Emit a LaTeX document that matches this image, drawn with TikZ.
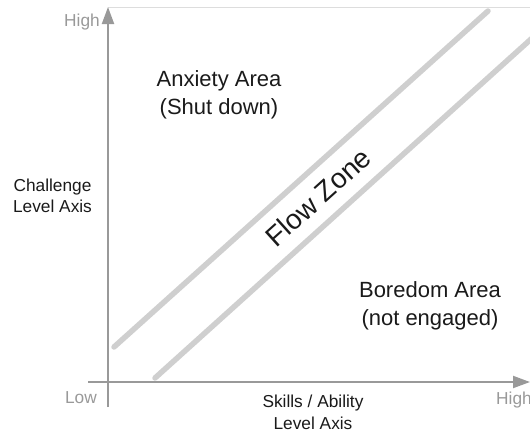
\documentclass[tikz,border=0pt]{standalone}
\usepackage{fontspec}
\setmainfont{Liberation Sans}
\usetikzlibrary{arrows.meta}
\definecolor{axisgray}{HTML}{999999}
\definecolor{bandgray}{HTML}{CFCFCF}
\definecolor{framegray}{HTML}{DDDDDD}
\definecolor{txt}{HTML}{1A1A1A}
\tikzset{
  axisline/.style={draw=axisgray, line width=2pt, -{Triangle[length=17pt,width=12pt]}},
  bandline/.style={draw=bandgray, line width=5.5pt, line cap=round},
  frameline/.style={draw=framegray, line width=1pt},
  arealabel/.style={font=\fontsize{22}{28}\selectfont, text=txt, align=center, inner sep=0pt},
  axislabel/.style={font=\fontsize{17.3}{21.5}\selectfont, text=txt, align=center, inner sep=0pt},
  ticklabel/.style={font=\fontsize{17.3}{21}\selectfont, text=axisgray, inner sep=0pt},
  flowlabel/.style={font=\fontsize{28}{34}\selectfont, text=txt, inner sep=0pt, rotate=42}
}
\begin{document}
\begin{tikzpicture}[x=1pt,y=-1pt]
\useasboundingbox (0,0) rectangle (530,434);
% frame top
\coordinate (ftl) at (108,7);
\coordinate (ftr) at (530,7);
\draw[frameline] (ftl) -- (ftr);
% flow band lines
\coordinate (b1s) at (114,347);
\coordinate (b1e) at (488,11);
\coordinate (b2s) at (155,378);
\coordinate (b2e) at (540,31);
\draw[bandline] (b1s) -- (b1e);
\draw[bandline] (b2s) -- (b2e);
% axes
\coordinate (yb) at (108,407);
\coordinate (yt) at (108,7);
\coordinate (xl) at (88,382);
\coordinate (xr) at (530,382);
\draw[axisline] (yb) -- (yt);
\draw[axisline] (xl) -- (xr);
% labels
\node[ticklabel, anchor=east] (hightop) at (100,22) {High};
\node[ticklabel, anchor=east] (low) at (97,398) {Low};
\node[ticklabel, anchor=west] (highright) at (496,400) {High};
\node[arealabel] (anx) at (219,94.5) {Anxiety Area\\(Shut down)};
\node[arealabel] (bore) at (430,306) {Boredom Area\\(not engaged)};
\node[axislabel] (chal) at (52.5,196) {Challenge\\Level Axis};
\node[axislabel] (skill) at (313,412.5) {Skills / Ability\\Level Axis};
\node[flowlabel] (flow) at (318,197) {Flow Zone};
\end{tikzpicture}
\end{document}
